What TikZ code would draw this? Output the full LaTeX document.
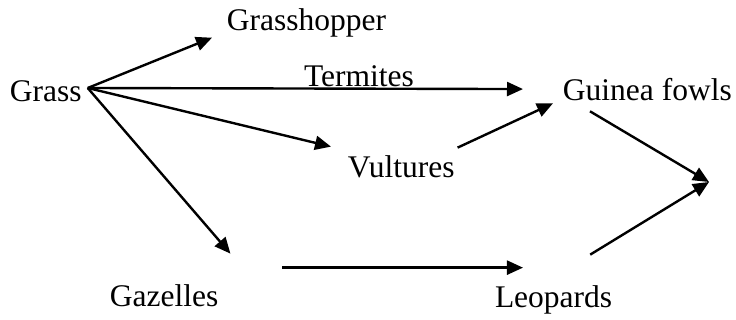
\documentclass[tikz,border=0pt]{standalone}
\usepackage{fontspec}
\setmainfont{Liberation Serif}
\usetikzlibrary{calc,arrows.meta}

\tikzset{
    animal/.style={inner sep=0pt, outer sep=0pt, anchor=base west, font=\fontsize{15.75}{19}\selectfont},
    feeds/.style={line width=1.2pt, -{Triangle[length=8pt,width=7pt]}}
}

\begin{document}
\begin{tikzpicture}[x=0.5pt, y=-0.5pt]
    \useasboundingbox (0,0) rectangle (736,320);
    \node[animal] at (10,102) (Grass) {Grass};
    \node[animal] at (227,31) (Grasshopper) {Grasshopper};
    \node[animal] at (563,101) (Guinea) {Guinea fowls};
    \node[animal] at (348,178) (Vultures) {Vultures};
    \node[animal] at (110,307) (Gazelles) {Gazelles};
    \node[animal] at (495,308) (Leopards) {Leopards};
    \coordinate (hub) at ($(Grass.base east)+(6,-14)$);
    \coordinate (meet) at (709,182);
    \draw[feeds] (hub) -- ($(Grasshopper.south west)+(-15,0)$);
    \draw[feeds] (hub) -- ($(Guinea.west)+(-40,-1)$) node [animal, anchor=base, pos=0.623, yshift=1pt] (Termites) {Termites};
    \draw[feeds] (hub) -- ($(Vultures.north west)+(-17,-9.5)$);
    \draw[feeds] (hub) -- ($(Gazelles.north east)+(12,-31.5)$);
    \draw[feeds] ($(Vultures.north east)+(3,-8.5)$) -- ($(Guinea.south west)+(-10,2)$);
    \draw[feeds] ($(Gazelles.north east)+(64,-17.5)$) -- ($(Leopards.north west)+(28,-18.5)$);
    \draw[feeds] ($(Guinea.south west)+(27,10)$) -- (meet);
    \draw[feeds] ($(Leopards.north east)+(-22,-31.5)$) -- (meet);
\end{tikzpicture}
\end{document}
